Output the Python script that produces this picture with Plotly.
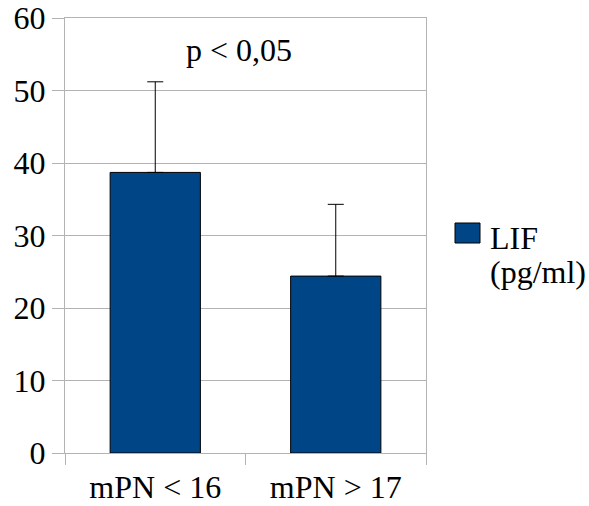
import plotly.graph_objects as go

categories = ["mPN < 16", "mPN > 17"]
values = [38.7, 24.4]
errors_plus = [12.5, 9.9]
series_label_lines = ["LIF", "(pg/ml)"]
annotation_text = "p < 0,05"
y_ticks = [0, 10, 20, 30, 40, 50, 60]

FONT = "Liberation Serif"
FS = 32
BLUE = "#004586"
GRID = "#b3b3b3"

fig = go.Figure()
fig.add_trace(go.Bar(
    x=categories, y=values,
    marker=dict(color=BLUE, line=dict(color="black", width=1)),
    error_y=dict(type="data", symmetric=False, array=errors_plus,
                 arrayminus=[0] * len(values), color="black", thickness=1, width=8),
    showlegend=False,
))

def py(y):
    return (453 - y) / 435

def px(x):
    return (x - 65) / 361

annotations = [
    dict(text=annotation_text, xref="paper", yref="paper",
         x=px(238.5), y=py(50), showarrow=False,
         font=dict(family=FONT, size=FS), xanchor="center", yanchor="middle"),
]
for line, yc in zip(series_label_lines, [238, 272]):
    annotations.append(dict(text=line, xref="paper", yref="paper",
                            x=px(488), y=py(yc), showarrow=False, align="left",
                            font=dict(family=FONT, size=FS), xanchor="left", yanchor="middle"))

fig.update_layout(
    width=589, height=506,
    margin=dict(l=65, r=163, t=18, b=53, autoexpand=False),
    paper_bgcolor="white", plot_bgcolor="white",
    font=dict(family=FONT, size=FS, color="black"),
    bargap=0.5,
    xaxis=dict(
        automargin=False,
        showline=True, linecolor=GRID, linewidth=1, mirror=True,
        ticks="outside", tickson="boundaries", ticklen=11, tickcolor=GRID,
        showgrid=False, tickfont=dict(family=FONT, size=FS), ticklabelstandoff=6,
    ),
    yaxis=dict(
        automargin=False,
        range=[0, 60], tickvals=y_ticks, showline=True, linecolor=GRID, linewidth=1,
        mirror=True, ticks="outside", ticklen=12, tickcolor=GRID,
        showgrid=True, gridcolor=GRID, gridwidth=1, zeroline=False,
        tickfont=dict(family=FONT, size=FS),
    ),
    shapes=[dict(type="rect", xref="paper", yref="paper",
                 x0=px(455), x1=px(480), y0=py(243), y1=py(223),
                 fillcolor=BLUE, line=dict(color="black", width=1))],
    annotations=annotations,
)

fig.write_html("out.html", config={"displayModeBar": False},
               post_script="document.body.style.margin='0';")
